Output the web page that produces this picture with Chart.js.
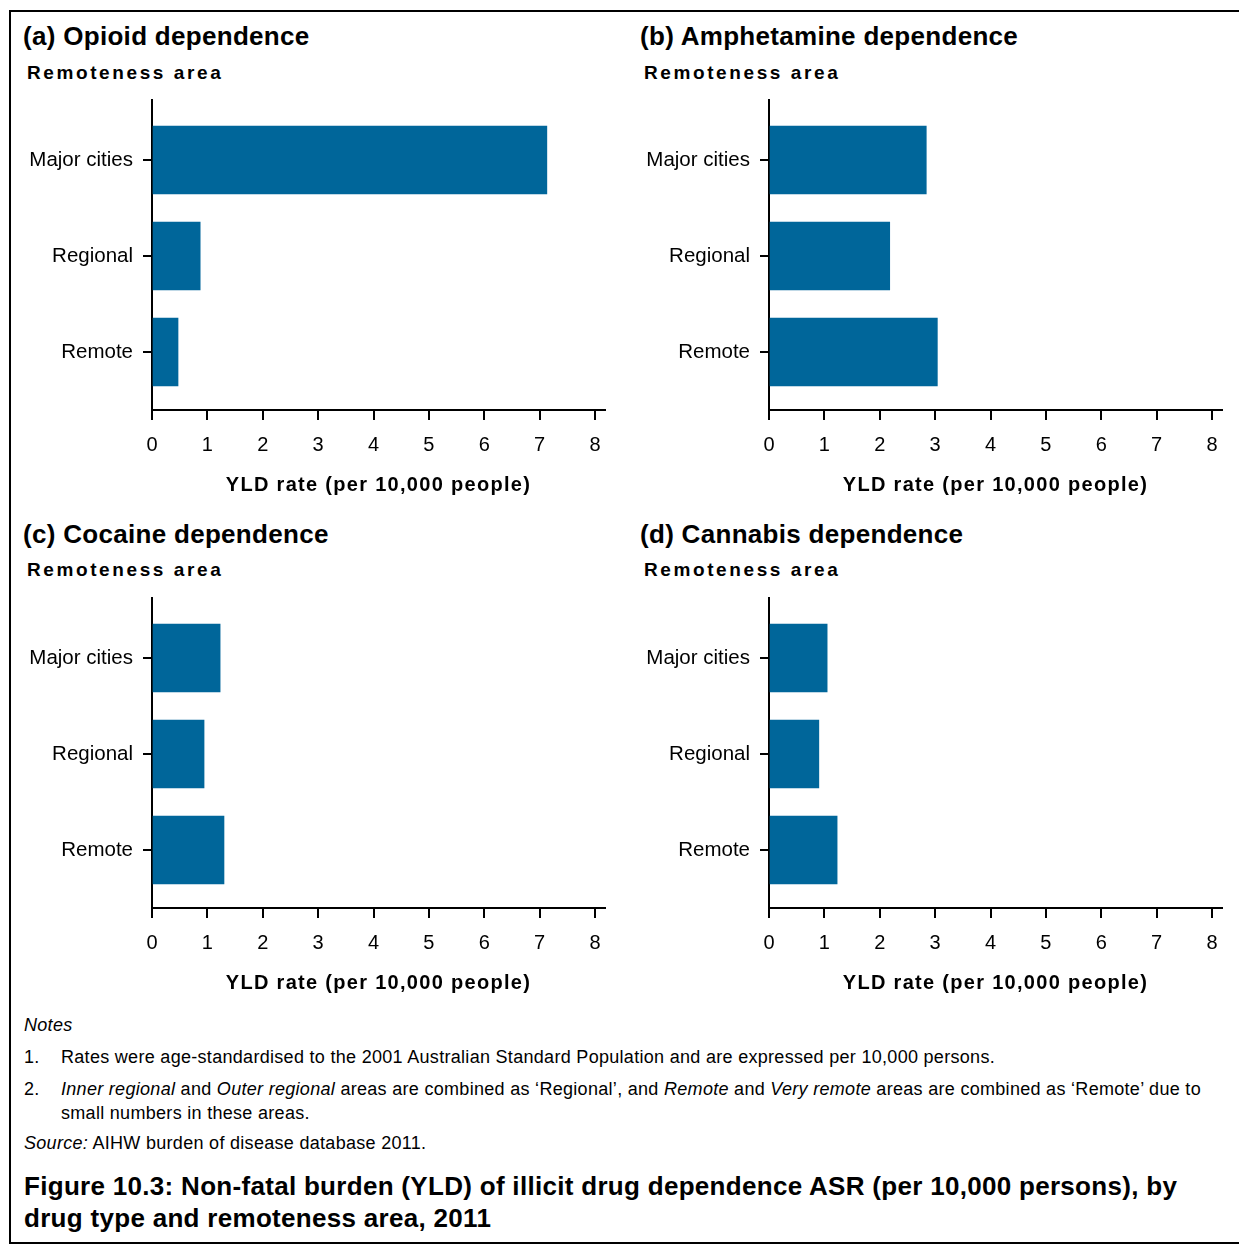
<!DOCTYPE html>
<html>
<head>
<meta charset="utf-8">
<script src="https://cdn.jsdelivr.net/npm/chart.js@4/dist/chart.umd.min.js"></script>
<style>
  body { margin:0; background:#fff; font-family:"Liberation Sans", Arial, sans-serif; color:#000; }
  #frame { position:absolute; left:9px; top:10px; width:1232px; height:1234px; border:2px solid #000; box-sizing:border-box; }
  .ptitle { position:absolute; font-weight:bold; font-size:26px; letter-spacing:0.3px; white-space:nowrap; }
  .ytitle { position:absolute; font-weight:bold; font-size:19px; letter-spacing:2.6px; white-space:nowrap; }
  .box { position:absolute; }
  .note { position:absolute; font-size:18px; letter-spacing:0.3px; white-space:nowrap; }
  .cap { position:absolute; left:24px; font-weight:bold; font-size:26px; letter-spacing:0.3px; white-space:nowrap; }
</style>
</head>
<body>
<div id="frame"></div>

<div class="ptitle" style="left:23px;top:21px">(a) Opioid dependence</div>
<div class="ytitle" style="left:27px;top:62px">Remoteness area</div>
<div class="ptitle" style="left:640px;top:21px">(b) Amphetamine dependence</div>
<div class="ytitle" style="left:644px;top:62px">Remoteness area</div>
<div class="ptitle" style="left:23px;top:519px">(c) Cocaine dependence</div>
<div class="ytitle" style="left:27px;top:559px">Remoteness area</div>
<div class="ptitle" style="left:640px;top:519px">(d) Cannabis dependence</div>
<div class="ytitle" style="left:644px;top:559px">Remoteness area</div>

<div class="box" style="left:10px;top:90px;width:610px;height:410px"><canvas id="c1"></canvas></div>
<div class="box" style="left:627px;top:90px;width:610px;height:410px"><canvas id="c2"></canvas></div>
<div class="box" style="left:10px;top:588px;width:610px;height:410px"><canvas id="c3"></canvas></div>
<div class="box" style="left:627px;top:588px;width:610px;height:410px"><canvas id="c4"></canvas></div>

<div class="note" style="left:24px;top:1015px"><i>Notes</i></div>
<div class="note" style="left:24px;top:1047px">1.</div>
<div class="note" style="left:61px;top:1047px">Rates were age-standardised to the 2001 Australian Standard Population and are expressed per 10,000 persons.</div>
<div class="note" style="left:24px;top:1079px">2.</div>
<div class="note" style="left:61px;top:1079px"><i>Inner regional</i> and <i>Outer regional</i> areas are combined as ‘Regional’, and <i>Remote</i> and <i>Very remote</i> areas are combined as ‘Remote’ due to</div>
<div class="note" style="left:61px;top:1103px">small numbers in these areas.</div>
<div class="note" style="left:24px;top:1133px"><i>Source:</i> AIHW burden of disease database 2011.</div>
<div class="cap" style="top:1171px">Figure 10.3: Non-fatal burden (YLD) of illicit drug dependence ASR (per 10,000 persons), by</div>
<div class="cap" style="top:1203px">drug type and remoteness area, 2011</div>

<script>
// remoteness areas (top to bottom)
var areas = ["Major cities", "Regional", "Remote"];
// YLD rate per 10,000 people
var opioid = [7.13, 0.87, 0.47];
var amphetamine = [2.84, 2.18, 3.04];
var cocaine = [1.23, 0.94, 1.30];
var cannabis = [1.05, 0.90, 1.23];
var xTicks = [0, 1, 2, 3, 4, 5, 6, 7, 8];

var barColor = "#00669A";

// axis title is letter-spaced in the original
function spacedTitle(s) {
    if (s._spaced) return;
    s._spaced = true;
    var orig = s.drawTitle;
    s.drawTitle = function() {
        this.ctx.save();
        this.ctx.letterSpacing = '1.3px';
        orig.apply(this, arguments);
        this.ctx.restore();
    };
}

function drawPanel(id, values) {
    var pts = values.map(function(v, i) { return { x: v, y: i }; });
    new Chart(document.getElementById(id).getContext('2d'), {
        type: 'bar',
        data: {
            datasets: [{
                data: pts,
                backgroundColor: barColor,
                barThickness: 68
            }]
        },
        options: {
            indexAxis: 'y',
            responsive: true,
            maintainAspectRatio: false,
            animation: false,
            layout: { padding: { top: 10, right: 15, left: 0, bottom: 0 } },
            plugins: { legend: { display: false }, tooltip: { enabled: false } },
            scales: {
                x: {
                    type: 'linear',
                    min: 0,
                    max: 8.18,
                    afterBuildTicks: function(s) { s.ticks = xTicks.map(function(v) { return { value: v }; }); },
                    afterFit: function(s) { s.height = 90; spacedTitle(s); },
                    border: { color: '#000', width: 2 },
                    grid: { drawOnChartArea: false, color: '#000', lineWidth: 2, tickLength: 10 },
                    ticks: { color: '#000', padding: 13, font: { family: 'Liberation Sans', size: 20 } },
                    title: {
                        display: true,
                        text: 'YLD rate (per 10,000 people)',
                        color: '#000',
                        padding: { top: 0, bottom: 3 },
                        font: { family: 'Liberation Sans', size: 20, weight: 'bold' }
                    }
                },
                y: {
                    type: 'linear',
                    reverse: true,
                    offset: false,
                    min: -0.625,
                    max: 2.604,
                    afterBuildTicks: function(s) { s.ticks = areas.map(function(a, i) { return { value: i }; }); },
                    afterFit: function(s) { s.width = 142; s.paddingTop = 0; s.paddingBottom = 0; },
                    border: { color: '#000', width: 2 },
                    grid: { offset: false, drawOnChartArea: false, color: '#000', lineWidth: 2, tickLength: 9 },
                    ticks: {
                        color: '#000',
                        padding: 10,
                        font: { family: 'Liberation Sans', size: 20.5 },
                        callback: function(v) { return areas[v]; }
                    }
                }
            }
        }
    });
}

drawPanel('c1', opioid);
drawPanel('c2', amphetamine);
drawPanel('c3', cocaine);
drawPanel('c4', cannabis);
</script>
</body>
</html>
